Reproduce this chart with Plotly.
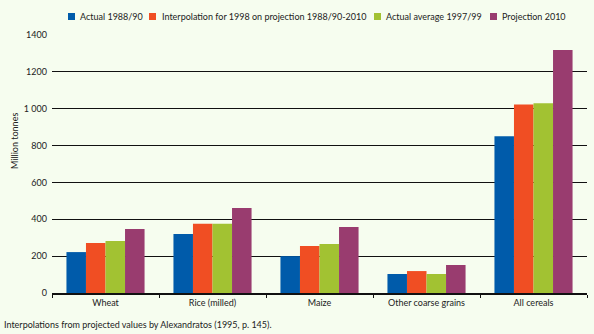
import plotly.graph_objects as go

categories = ["Wheat", "Rice (milled)", "Maize", "Other coarse grains", "All cereals"]
series_names = ["Actual 1988/90", "Interpolation for 1998 on projection 1988/90-2010",
                "Actual average 1997/99", "Projection 2010"]
actual_1988 = [222, 320, 200, 103, 850]
interp_1998 = [271, 376, 255, 119, 1023]
actual_9799 = [282, 376, 266, 103, 1029]
proj_2010 = [347, 461, 358, 152, 1318]
colors = ["#005BAA", "#F04E23", "#A2C232", "#993C6F"]
tick_vals = [0, 200, 400, 600, 800, 1000, 1200, 1400]
tick_text = ["0", "200", "400", "600", "800", "1 000", "1200", "1400"]

FONT = "Lato"
W, H = 594, 334
ML, MR, MT, MB = 52, 7, 35, 41
plot_w = W - ML - MR
plot_h = H - MT - MB

def px(x):
    return (x - ML) / plot_w

def py(y):
    return (H - MB - y) / plot_h

fig = go.Figure()
for name, vals, c in zip(series_names, [actual_1988, interp_1998, actual_9799, proj_2010], colors):
    fig.add_trace(go.Bar(name=name, x=categories, y=vals, marker=dict(color=c, line=dict(width=0)),
                         showlegend=False))

bg = "#F6FDEF"
fig.update_layout(
    width=W, height=H,
    paper_bgcolor=bg, plot_bgcolor=bg,
    margin=dict(l=ML, r=MR, t=MT, b=MB),
    barmode="group", bargap=0.27, bargroupgap=0,
    font=dict(family=FONT, size=9, color="#222"),
    showlegend=False,
)
fig.update_xaxes(showline=True, linecolor="#111", linewidth=1.5, ticks="outside", tickson="boundaries",
                 ticklen=3, tickcolor="#111", showgrid=False, tickfont=dict(size=9))
fig.update_yaxes(range=[0, 1400], tickvals=tick_vals, ticktext=tick_text, showgrid=True,
                 gridcolor="#111", gridwidth=1.2, zeroline=False, showline=False, ticks="",
                 ticklabelstandoff=4, tickfont=dict(size=9))
fig.add_annotation(text="Million tonnes", x=px(14), y=py(141), xref="paper", yref="paper", showarrow=False,
                   textangle=-90, xanchor="center", yanchor="middle", font=dict(size=9))
fig.add_annotation(text="Interpolations from projected values by Alexandratos (1995, p. 145).",
                   x=px(2), y=py(317), xref="paper", yref="paper", showarrow=False, xanchor="left",
                   yanchor="top", font=dict(size=9))

# manual legend
leg_sq_x = [68, 149, 374, 490]
leg_txt_x = [77.5, 159.5, 383.5, 499.5]
for name, c, sx, tx in zip(series_names, colors, leg_sq_x, leg_txt_x):
    fig.add_shape(type="rect", xref="paper", yref="paper", x0=px(sx), x1=px(sx + 7),
                  y0=py(20), y1=py(13), fillcolor=c, line=dict(width=0))
    fig.add_annotation(text=name, x=px(tx), y=py(16.5), xref="paper", yref="paper", showarrow=False,
                       xanchor="left", yanchor="middle", font=dict(size=9))
fig.write_html("out.html")
